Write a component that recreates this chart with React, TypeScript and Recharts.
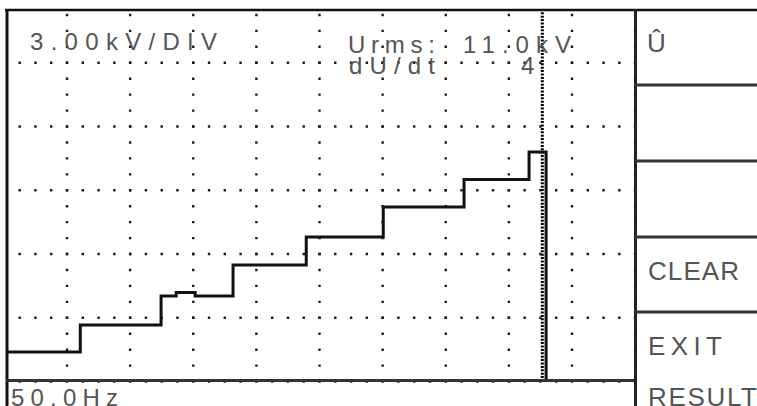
import React from "react";
import { LineChart, Line, XAxis, YAxis, CartesianGrid, ReferenceLine } from "recharts";

// Trace: time in divisions, voltage in kV (3 kV/div)
const TIME_DIV = [0, 1.21, 2.49, 2.73, 3.03, 3.63, 4.79, 6.01, 7.29, 8.32, 8.59];
const VOLT_KV = [1.39, 2.66, 4.02, 4.19, 4.02, 5.48, 6.8, 8.21, 9.51, 10.8, 0];

const X_TICKS = [1, 2, 3, 4, 5, 6, 7, 8, 9];
const Y_TICKS = [3, 6, 9, 12, 15];
const X_DOMAIN = [0, 10];
const Y_DOMAIN = [0, 17.53];
const CURSOR_DIV = 8.53;

const SCALE_LABEL = "3.00kV/DIV";
const URMS_LABEL = "Urms:";
const URMS_VALUE = "11.0kV";
const DUDT_LABEL = "dU/dt";
const DUDT_VALUE = "4";
const FREQ_LABEL = "50.0Hz";
const MENU_ITEMS = ["Û", "CLEAR", "EXIT", "RESULT"];

const data = TIME_DIV.map((t, i) => ({ t, v: VOLT_KV[i] }));

const TEXT_FILL = "#555";
const FONT = "'Liberation Sans', Arial, sans-serif";

const hLine = (props: any) => (
  <line
    key={`h-${props.y1}`}
    x1={props.x1}
    y1={props.y1}
    x2={props.x2}
    y2={props.y2}
    stroke="#1a1a1a"
    strokeWidth={2.4}
    strokeDasharray="2.4 13.38"
    strokeDashoffset={1.2}
  />
);

const vLine = (props: any) => (
  <line
    key={`v-${props.x1}`}
    x1={props.x1}
    y1={props.y1}
    x2={props.x2}
    y2={props.y2}
    stroke="#1a1a1a"
    strokeWidth={2.4}
    strokeDasharray="2.4 13.54"
    strokeDashoffset={11.2}
  />
);

export default function App() {
  return (
    <div style={{ position: "absolute", left: 0, top: 0, width: 757, height: 406, background: "#fff" }}>
      <LineChart
        width={757}
        height={406}
        data={data}
        margin={{ top: 9, right: 121.9, bottom: 24.5, left: 3.9 }}
      >
        <XAxis dataKey="t" type="number" domain={X_DOMAIN} ticks={X_TICKS} hide />
        <YAxis type="number" domain={Y_DOMAIN} ticks={Y_TICKS} hide />
        <CartesianGrid horizontal={hLine} vertical={vLine} />
        <ReferenceLine
          x={CURSOR_DIV}
          stroke="#000"
          strokeWidth={3}
          strokeDasharray="2 1.4"
          ifOverflow="visible"
        />
        <Line
          type="stepAfter"
          dataKey="v"
          stroke="#111"
          strokeWidth={3}
          dot={false}
          isAnimationActive={false}
        />
      </LineChart>
      <svg
        width={757}
        height={406}
        style={{ position: "absolute", left: 0, top: 0, pointerEvents: "none" }}
      >
        <rect x={0} y={0} width={6} height={406} fill="#fff" />
        <rect x={0} y={0} width={757} height={9} fill="#fff" />
        {/* frame */}
        <line x1={5} y1={10} x2={757} y2={10} stroke="#111" strokeWidth={2.5} />
        <line x1={7} y1={9} x2={7} y2={406} stroke="#111" strokeWidth={3} />
        <line x1={6} y1={380.5} x2={636} y2={380.5} stroke="#333" strokeWidth={3} />
        <line x1={635.5} y1={9} x2={635.5} y2={406} stroke="#222" strokeWidth={3} />
        <line x1={635} y1={85} x2={757} y2={85} stroke="#333" strokeWidth={3} />
        <line x1={635} y1={161} x2={757} y2={161} stroke="#333" strokeWidth={3} />
        <line x1={635} y1={237} x2={757} y2={237} stroke="#333" strokeWidth={3} />
        <line x1={635} y1={312} x2={757} y2={312} stroke="#333" strokeWidth={3} />
        {/* texts */}
        <g fontFamily={FONT} fill={TEXT_FILL} fontSize={24}>
          <text x={30} y={50} textLength={187} lengthAdjust="spacing">{SCALE_LABEL}</text>
          <text x={348} y={53} textLength={87} lengthAdjust="spacing">{URMS_LABEL}</text>
          <text x={463} y={53} textLength={108} lengthAdjust="spacing">{URMS_VALUE}</text>
          <text x={349} y={74} textLength={86} lengthAdjust="spacing">{DUDT_LABEL}</text>
          <text x={521} y={74}>{DUDT_VALUE}</text>
          <text x={11} y={406} textLength={107} lengthAdjust="spacing">{FREQ_LABEL}</text>
        </g>
        <g fontFamily={FONT} fill={TEXT_FILL} fontSize={26}>
          <text x={647} y={52}>{MENU_ITEMS[0]}</text>
          <text x={648} y={280} textLength={91} lengthAdjust="spacing">{MENU_ITEMS[1]}</text>
          <text x={648} y={355} textLength={74} lengthAdjust="spacing">{MENU_ITEMS[2]}</text>
          <text x={648} y={406} textLength={109} lengthAdjust="spacing">{MENU_ITEMS[3]}</text>
        </g>
      </svg>
    </div>
  );
}
